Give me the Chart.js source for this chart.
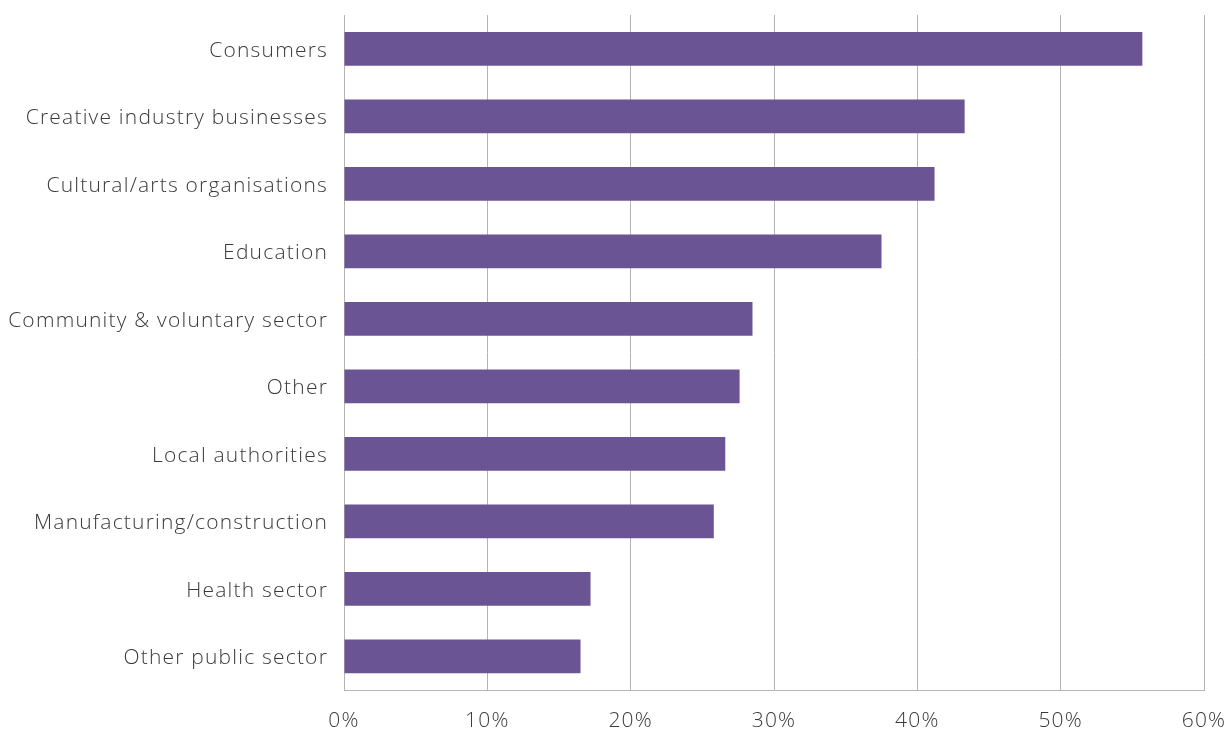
<!DOCTYPE html>
<html>
<head>
<meta charset="utf-8">
<script src="https://cdn.jsdelivr.net/npm/chart.js@4/dist/chart.umd.min.js"></script>
<style>
    html, body { margin: 0; padding: 0; background: #fff; }
    #wrap { width: 1232px; height: 729px; }
</style>
</head>
<body>
<div id="wrap"><canvas id="sectorChart"></canvas></div>
<script>
// Sectoare și procente
const sectors = [
    'Consumers',
    'Creative industry businesses',
    'Cultural/arts organisations',
    'Education',
    'Community & voluntary sector',
    'Other',
    'Local authorities',
    'Manufacturing/construction',
    'Health sector',
    'Other public sector'
];
const shares = [55.7, 43.3, 41.2, 37.5, 28.5, 27.6, 26.6, 25.8, 17.2, 16.5];
const tickValues = [0, 10, 20, 30, 40, 50, 60];

const textColor = '#3a3a3a';
const lineColor = '#b4b4b4';
const fontFamily = "'Open Sans', sans-serif";

// spațiere între litere pentru etichete
const spacingPlugin = {
    id: 'letterSpacing',
    beforeDraw(chart) {
        chart.ctx.letterSpacing = '1.2px';
    }
};

// fără padding automat de la etichete, doar cel din layout
function noPadding(axis) {
    axis.paddingTop = 0;
    axis.paddingBottom = 0;
    axis.paddingLeft = 0;
    axis.paddingRight = 0;
}

const ctx = document.getElementById('sectorChart').getContext('2d');
new Chart(ctx, {
    type: 'bar',
    data: {
        labels: sectors,
        datasets: [{
            data: shares,
            backgroundColor: '#6b5494',
            borderWidth: 0,
            barPercentage: 0.5,
            categoryPercentage: 1.0
        }]
    },
    plugins: [spacingPlugin],
    options: {
        indexAxis: 'y',
        responsive: true,
        maintainAspectRatio: false,
        animation: false,
        layout: { padding: { top: 15, right: 28, left: 0, bottom: 0 } },
        plugins: {
            legend: { display: false },
            tooltip: { enabled: false }
        },
        scales: {
            x: {
                min: 0,
                max: 60,
                afterBuildTicks: axis => {
                    axis.ticks = tickValues.map(v => ({ value: v }));
                },
                afterFit: axis => { axis.height = 39; noPadding(axis); },
                grid: { color: lineColor, lineWidth: 1, drawTicks: false },
                border: { color: lineColor, width: 1 },
                ticks: {
                    color: textColor,
                    padding: 18,
                    font: { family: fontFamily, size: 21, weight: 300 },
                    callback: v => v + '%'
                }
            },
            y: {
                afterFit: axis => { axis.width = 344; noPadding(axis); },
                grid: { display: false, drawTicks: false },
                border: { color: lineColor, width: 1 },
                ticks: {
                    color: textColor,
                    padding: 16,
                    labelOffset: 2,
                    font: { family: fontFamily, size: 21, weight: 300 }
                }
            }
        }
    }
});
</script>
</body>
</html>
